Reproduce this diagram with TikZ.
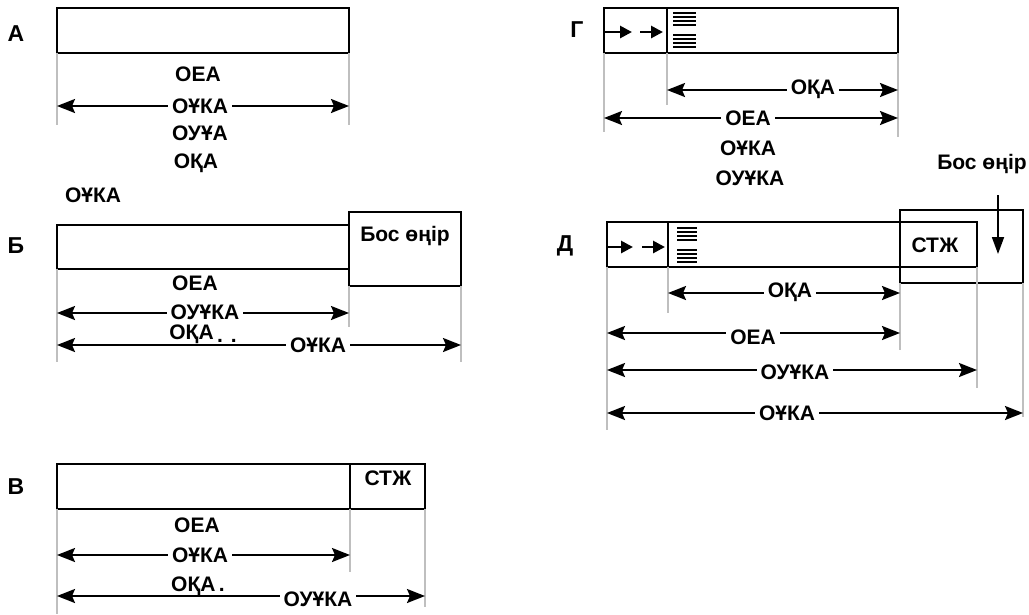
\documentclass[tikz,border=0pt]{standalone}
\usepackage{fontspec}
\setmainfont{Liberation Sans}
\usepackage{tikz}
\usetikzlibrary{arrows.meta}

\begin{document}
\begin{tikzpicture}
		[x=1pt,y=-1pt,
		blk/.style= {line width=2.7pt},
		ext/.style= {gray!50,line width=1.3pt},
		dim/.style= {line width=2pt,{Stealth[length=18pt,width=14pt,inset=3pt]}-{Stealth[length=18pt,width=14pt,inset=3pt]}},
		small/.style= {line width=2.8pt,-{Triangle[length=12pt,width=12pt]}},
		stripe/.style= {line width=2.2pt},
		lbl/.style= {font=\bfseries\fontsize{21}{23}\selectfont,inner sep=1pt},
		gap/.style= {lbl,fill=white,inner xsep=4pt},
		big/.style= {font=\bfseries\fontsize{21}{23}\selectfont,inner sep=1pt},
		panel/.style= {font=\bfseries\fontsize{23}{25}\selectfont,inner sep=1pt}]

		\useasboundingbox (0,0) rectangle (1029,614);

		% A
		\node[panel] (la) at (16,34) {А};
		\draw[blk] (57,8) rectangle (349,53);
		\coordinate (a1) at (57,53);
		\coordinate (a2) at (349,53);
		\draw[ext] (a1) -- ++(0,72);
		\draw[ext] (a2) -- ++(0,72);
		\coordinate (a1d) at (57,106);
		\coordinate (a2d) at (349,106);
		\draw[dim] (a1d) -- (a2d);
		\node[lbl] (aoea) at (198,74) {ОЕА};
		\node[gap] (aouka) at (200,106) {ОҰКА};
		\node[lbl] (aouua) at (200,133) {ОУҰА};
		\node[lbl] (aoqa) at (196,163) {ОҚА};
		\node[lbl] (bouka0) at (93,195) {ОҰКА};

		% Б
		\node[panel] (lb) at (16,246) {Б};
		\draw[blk] (57,225) rectangle (349,269);
		\draw[blk] (349,212) rectangle (461,286);
		\node[big] (bfree) at (405,236) {Бос өңір};
		\coordinate (b1) at (57,269);
		\coordinate (b2) at (349,286);
		\coordinate (b3) at (461,286);
		\draw[ext] (b1) -- ++(0,93);
		\draw[ext] (b2) -- ++(0,41);
		\draw[ext] (b3) -- ++(0,76);
		\coordinate (b1d) at (57,313);
		\coordinate (b2d) at (349,313);
		\coordinate (b1e) at (57,345);
		\coordinate (b3e) at (461,345);
		\draw[dim] (b1d) -- (b2d);
		\draw[dim] (b1e) -- (b3e);
		\node[lbl] (boea) at (195,283) {ОЕА};
		\node[gap] (bouuka) at (205,312) {ОУҰКА};
		\node[lbl] (boqa) at (203,334) {ОҚА\,\raisebox{-3pt}{. .}};
		\node[gap] (bouka) at (318,345) {ОҰКА};

		% В
		\node[panel] (lv) at (16,487) {В};
		\draw[blk] (57,464) rectangle (425,509);
		\draw[blk] (350,464) -- (350,509);
		\node[lbl] (vstj) at (388,478) {СТЖ};
		\coordinate (v1) at (57,509);
		\coordinate (v2) at (350,509);
		\coordinate (v3) at (425,509);
		\draw[ext] (v1) -- ++(0,105);
		\draw[ext] (v2) -- ++(0,63);
		\draw[ext] (v3) -- ++(0,98);
		\coordinate (v1d) at (57,555);
		\coordinate (v2d) at (350,555);
		\coordinate (v1e) at (57,596);
		\coordinate (v3e) at (425,596);
		\draw[dim] (v1d) -- (v2d);
		\draw[dim] (v1e) -- (v3e);
		\node[lbl] (voea) at (197,525) {ОЕА};
		\node[gap] (vouka) at (200,555) {ОҰКА};
		\node[lbl] (voqa) at (198,586) {ОҚА\,.};
		\node[gap] (vouuka) at (318,599) {ОУҰКА};

		% Г
		\node[panel] (lg) at (577,30) {Г};
		\draw[blk] (604,8) rectangle (898,53);
		\draw[blk] (667,8) -- (667,53);
		\coordinate (gs1) at (604,32);
		\coordinate (gs2) at (632,32);
		\coordinate (gs3) at (640,32);
		\coordinate (gs4) at (663,32);
		\draw[small] (gs1) -- (gs2);
		\draw[small] (gs3) -- (gs4);
		\foreach \y in {13,17,21,25,35,39,43,47}
			\draw[stripe] (673,\y) -- (696,\y);
		\coordinate (g1) at (604,53);
		\coordinate (g2) at (667,53);
		\coordinate (g3) at (898,53);
		\draw[ext] (g1) -- ++(0,79);
		\draw[ext] (g2) -- ++(0,52);
		\draw[ext] (g3) -- ++(0,84);
		\coordinate (g2d) at (667,90);
		\coordinate (g3d) at (898,90);
		\coordinate (g1e) at (604,118);
		\coordinate (g3e) at (898,118);
		\draw[dim] (g2d) -- (g3d);
		\draw[dim] (g1e) -- (g3e);
		\node[gap] (goqa) at (813,89) {ОҚА};
		\node[gap] (goea) at (748,118) {ОЕА};
		\node[lbl] (gouka) at (748,148) {ОҰКА};
		\node[lbl] (gouuka) at (750,178) {ОУҰКА};

		% Д
		\node[panel] (ld) at (565,246) {Д};
		\draw[blk] (607,222) rectangle (977,267);
		\draw[blk] (668,222) -- (668,267);
		\draw[blk] (900,210) rectangle (1023,283);
		\node[lbl] (dstj) at (935,245) {СТЖ};
		\node[big] (dfree) at (982,164) {Бос өңір};
		\coordinate (dfa) at (998,195);
		\coordinate (dfb) at (998,254);
		\draw[line width=1.8pt,-{Triangle[length=17pt,width=12pt]}] (dfa) -- (dfb);
		\coordinate (ds1) at (607,247);
		\coordinate (ds2) at (633,247);
		\coordinate (ds3) at (642,247);
		\coordinate (ds4) at (665,247);
		\draw[small] (ds1) -- (ds2);
		\draw[small] (ds3) -- (ds4);
		\foreach \y in {228,232,236,240,250,254,258,262}
			\draw[stripe] (677,\y) -- (697,\y);
		\coordinate (d1) at (607,267);
		\coordinate (d2) at (668,267);
		\coordinate (d3) at (900,283);
		\coordinate (d4) at (977,267);
		\coordinate (d5) at (1023,283);
		\draw[ext] (d1) -- ++(0,163);
		\draw[ext] (d2) -- ++(0,46);
		\draw[ext] (d3) -- ++(0,67);
		\draw[ext] (d4) -- ++(0,121);
		\draw[ext] (d5) -- ++(0,134);
		\coordinate (d2a) at (668,293);
		\coordinate (d3a) at (900,293);
		\coordinate (d1b) at (607,333);
		\coordinate (d3b) at (900,333);
		\coordinate (d1c) at (607,370);
		\coordinate (d4c) at (977,370);
		\coordinate (d1e) at (607,413);
		\coordinate (d5e) at (1023,413);
		\draw[dim] (d2a) -- (d3a);
		\draw[dim] (d1b) -- (d3b);
		\draw[dim] (d1c) -- (d4c);
		\draw[dim] (d1e) -- (d5e);
		\node[gap] (doqa) at (790,292) {ОҚА};
		\node[gap] (doea) at (753,337) {ОЕА};
		\node[gap] (douuka) at (795,372) {ОУҰКА};
		\node[gap] (douka) at (787,413) {ОҰКА};

	\end{tikzpicture}
\end{document}
